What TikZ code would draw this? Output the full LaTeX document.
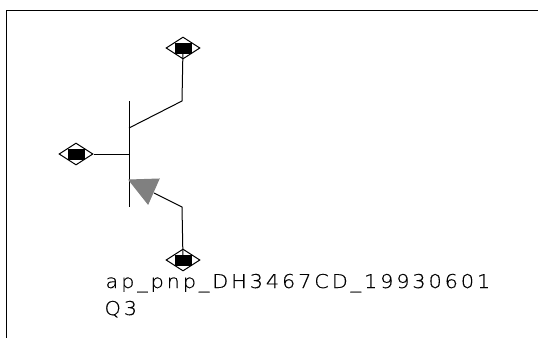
\documentclass[tikz,border=0pt]{standalone}
\usepackage{fontspec}
\setmainfont{DejaVu Sans}[UprightFont=* ExtraLight]
\usetikzlibrary{shapes.geometric}
\begin{document}
\begin{tikzpicture}[x=1pt, y=-1pt, line width=1pt,
	pin/.style={diamond, draw, fill=white, minimum width=34pt, minimum height=22pt, inner sep=0pt},
	pad/.style={rectangle, fill=black, minimum width=17pt, minimum height=11pt, inner sep=0pt},
	label/.style={anchor=base west, inner sep=0pt, font=\fontsize{19pt}{19pt}\selectfont\addfontfeature{FakeStretch=1.1, FakeBold=0.4, LetterSpace=15}}]
	    \useasboundingbox (0, 0) rectangle (538, 338);
	    \coordinate (frametop) at (538, 10);
	    \coordinate (framecorner) at (6, 10);
	    \coordinate (framebottom) at (6, 338);
	    \coordinate (bartop) at (129, 101);
	    \coordinate (barbottom) at (129, 207);
	    \coordinate (collectorjoin) at (129, 128);
	    \coordinate (collectorbend) at (182, 101);
	    \coordinate (basejoin) at (129, 154);
	    \coordinate (emitterbend) at (182, 207);
	    \coordinate (tipa) at (129, 180);
	    \coordinate (tipb) at (159, 179);
	    \coordinate (tipc) at (148, 204);
	    \coordinate (tipmid) at (154, 193);
	    \draw (frametop) -- (framecorner) -- (framebottom);
	    \node[pin] (collector) at (183, 48) {};
	    \node[pin] (base) at (76, 154) {};
	    \node[pin] (emitter) at (183, 260) {};
	    \draw (collector.center) -- (collectorbend) -- (collectorjoin);
	    \draw (base) -- (basejoin);
	    \draw (emitter.center) -- (emitterbend) -- (tipmid);
	    \draw (bartop) -- (barbottom);
	    \draw[fill=gray, draw=gray] (tipa) -- (tipb) -- (tipc) -- cycle;
	    \node[pad] (collectorpad) at (collector) {};
	    \node[pad] (basepad) at (base) {};
	    \node[pad] (emitterpad) at (emitter) {};
	    \node[label] (model) at (105, 288) {ap\_pnp\_DH3467CD\_19930601};
	    \node[label] (refdes) at (104, 315) {Q3};
	\end{tikzpicture}
\end{document}
